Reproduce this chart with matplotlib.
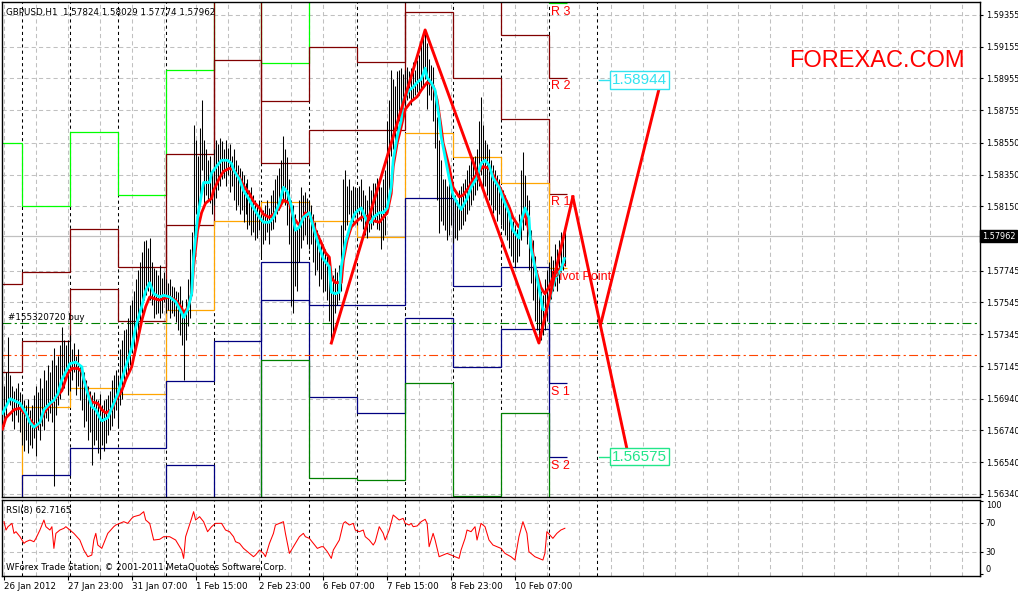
"""GBPUSD H1 chart with daily pivots, two moving averages, zigzag and RSI(8)."""

import matplotlib

matplotlib.use("Agg")

import matplotlib.pyplot as plt
import numpy as np

plt.rcParams["font.family"] = ["DejaVu Sans"]

W, H = 1018, 592

# ---- hourly bars, 26 Jan 2012 .. 13 Feb 2012 (one row per trading day) ----
bar_high = [
    1.5696, 1.5702, 1.5711, 1.5733, 1.5709, 1.5702, 1.5699, 1.5701, 1.5704, 1.5698,
    1.5696, 1.5693, 1.5690, 1.5694, 1.5687, 1.5690, 1.5696, 1.5702, 1.5698, 1.5707, 1.5701, 1.5712,
    1.5706, 1.5715, 1.5711, 1.5718, 1.5726, 1.5715, 1.5721, 1.5728, 1.5739, 1.5731, 1.5728, 1.5731,
    1.5734, 1.5725, 1.5729, 1.5721, 1.5725, 1.5715, 1.5712, 1.5711, 1.5706, 1.5702, 1.5699, 1.5696,
    1.5698, 1.5694, 1.5693, 1.5697, 1.5690, 1.5693, 1.5694, 1.5696, 1.5699, 1.5706, 1.5709, 1.5712,
    1.5708, 1.5725, 1.5731, 1.5737, 1.5738, 1.5745, 1.5753, 1.5756, 1.5762, 1.5769, 1.5775, 1.5780,
    1.5786, 1.5793, 1.5794, 1.5789, 1.5795, 1.5780, 1.5776, 1.5775, 1.5772, 1.5778, 1.5770, 1.5774,
    1.5769, 1.5767, 1.5769, 1.5765, 1.5764, 1.5762, 1.5761, 1.5765, 1.5756, 1.5750, 1.5757, 1.5769,
    1.5788, 1.5799, 1.5866, 1.5857, 1.5847, 1.5864, 1.5882, 1.5857, 1.5851, 1.5844, 1.5847, 1.5838,
    1.5851, 1.5857, 1.5854, 1.5858, 1.5856, 1.5851, 1.5857, 1.5852, 1.5854, 1.5847, 1.5851, 1.5844,
    1.5841, 1.5839, 1.5837, 1.5835, 1.5830, 1.5832, 1.5825, 1.5827, 1.5822, 1.5819, 1.5816, 1.5819,
    1.5810, 1.5813, 1.5816, 1.5819, 1.5814, 1.5822, 1.5825, 1.5832, 1.5835, 1.5839, 1.5844, 1.5859,
    1.5851, 1.5846, 1.5832, 1.5819, 1.5816, 1.5810, 1.5801, 1.5819, 1.5827, 1.5822, 1.5824, 1.5820,
    1.5819, 1.5816, 1.5810, 1.5805, 1.5800, 1.5797, 1.5794, 1.5791, 1.5788, 1.5784, 1.5780, 1.5775,
    1.5772, 1.5776, 1.5774, 1.5778, 1.5803, 1.5832, 1.5838, 1.5828, 1.5832, 1.5825, 1.5828, 1.5827,
    1.5825, 1.5828, 1.5832, 1.5825, 1.5822, 1.5819, 1.5828, 1.5825, 1.5830, 1.5830, 1.5833, 1.5828,
    1.5827, 1.5832, 1.5838, 1.5869, 1.5882, 1.5901, 1.5895, 1.5891, 1.5900, 1.5901, 1.5902, 1.5898,
    1.5901, 1.5903, 1.5900, 1.5902, 1.5906, 1.5901, 1.5907, 1.5910, 1.5917, 1.5921, 1.5926, 1.5918,
    1.5908, 1.5904, 1.5903, 1.5888, 1.5871, 1.5857, 1.5844, 1.5832, 1.5832, 1.5828, 1.5830, 1.5825,
    1.5819, 1.5822, 1.5819, 1.5825, 1.5828, 1.5830, 1.5832, 1.5838, 1.5841, 1.5844, 1.5846, 1.5847,
    1.5851, 1.5869, 1.5884, 1.5866, 1.5857, 1.5854, 1.5851, 1.5844, 1.5841, 1.5838, 1.5835, 1.5832,
    1.5827, 1.5825, 1.5822, 1.5819, 1.5815, 1.5811, 1.5806, 1.5803, 1.5801, 1.5810, 1.5838, 1.5849,
    1.5835, 1.5822, 1.5819, 1.5800, 1.5794, 1.5784, 1.5775, 1.5765, 1.5762, 1.5759, 1.5769, 1.5775,
    1.5780, 1.5784, 1.5781, 1.5791, 1.5788, 1.5794, 1.5799, 1.5794, 1.58029,
]
bar_low = [
    1.5668, 1.5677, 1.5682, 1.5694, 1.5690, 1.5680, 1.5675, 1.5684, 1.5679, 1.5673,
    1.5665, 1.5661, 1.5668, 1.5660, 1.5665, 1.5663, 1.5669, 1.5658, 1.5674, 1.5668, 1.5677, 1.5674,
    1.5682, 1.5680, 1.5685, 1.5679, 1.5639, 1.5684, 1.5690, 1.5694, 1.5702, 1.5701, 1.5707, 1.5696,
    1.5699, 1.5706, 1.5711, 1.5696, 1.5702, 1.5693, 1.5687, 1.5676, 1.5680, 1.5668, 1.5673, 1.5652,
    1.5665, 1.5668, 1.5660, 1.5656, 1.5665, 1.5661, 1.5666, 1.5671, 1.5674, 1.5677, 1.5682, 1.5687,
    1.5676, 1.5690, 1.5694, 1.5702, 1.5709, 1.5711, 1.5715, 1.5723, 1.5725, 1.5730, 1.5737, 1.5740,
    1.5748, 1.5756, 1.5759, 1.5762, 1.5756, 1.5753, 1.5745, 1.5747, 1.5748, 1.5745, 1.5748, 1.5755,
    1.5748, 1.5750, 1.5745, 1.5748, 1.5746, 1.5742, 1.5737, 1.5734, 1.5728, 1.5706, 1.5731, 1.5740,
    1.5745, 1.5759, 1.5777, 1.5810, 1.5803, 1.5822, 1.5838, 1.5816, 1.5822, 1.5819, 1.5817, 1.5810,
    1.5816, 1.5820, 1.5825, 1.5828, 1.5832, 1.5833, 1.5828, 1.5835, 1.5824, 1.5828, 1.5819, 1.5813,
    1.5816, 1.5810, 1.5813, 1.5805, 1.5810, 1.5801, 1.5803, 1.5797, 1.5799, 1.5794, 1.5795, 1.5800,
    1.5783, 1.5791, 1.5794, 1.5799, 1.5791, 1.5800, 1.5801, 1.5805, 1.5810, 1.5813, 1.5816, 1.5819,
    1.5816, 1.5803, 1.5791, 1.5752, 1.5748, 1.5765, 1.5762, 1.5780, 1.5789, 1.5794, 1.5797, 1.5791,
    1.5788, 1.5791, 1.5780, 1.5772, 1.5775, 1.5765, 1.5769, 1.5761, 1.5762, 1.5756, 1.5743, 1.5729,
    1.5734, 1.5748, 1.5753, 1.5756, 1.5762, 1.5780, 1.5800, 1.5803, 1.5810, 1.5801, 1.5805, 1.5808,
    1.5803, 1.5810, 1.5806, 1.5801, 1.5797, 1.5795, 1.5799, 1.5801, 1.5803, 1.5805, 1.5801, 1.5800,
    1.5788, 1.5794, 1.5797, 1.5810, 1.5825, 1.5847, 1.5851, 1.5857, 1.5863, 1.5869, 1.5873, 1.5876,
    1.5879, 1.5882, 1.5883, 1.5879, 1.5882, 1.5885, 1.5887, 1.5885, 1.5888, 1.5890, 1.5895, 1.5876,
    1.5885, 1.5882, 1.5869, 1.5852, 1.5819, 1.5798, 1.5806, 1.5803, 1.5800, 1.5794, 1.5797, 1.5803,
    1.5792, 1.5795, 1.5794, 1.5800, 1.5801, 1.5803, 1.5806, 1.5810, 1.5813, 1.5816, 1.5819, 1.5822,
    1.5825, 1.5828, 1.5835, 1.5825, 1.5828, 1.5822, 1.5819, 1.5816, 1.5811, 1.5813, 1.5806, 1.5810,
    1.5803, 1.5800, 1.5797, 1.5794, 1.5789, 1.5784, 1.5780, 1.5777, 1.5780, 1.5784, 1.5794, 1.5800,
    1.5803, 1.5791, 1.5775, 1.5767, 1.5756, 1.5743, 1.5737, 1.5729, 1.5731, 1.5734, 1.5737, 1.5743,
    1.5753, 1.5757, 1.5762, 1.5765, 1.5762, 1.5767, 1.5774, 1.5775, 1.57774,
]
last_close = 1.57962
header = "GBPUSD,H1  1.57824 1.58029 1.57774 1.57962"

# ---- moving averages (cyan = fast, red = slow), sampled along the bars ----
fast_ma_bar = [
    0, 4, 9, 12, 14, 16, 19, 21, 24, 26, 28, 30, 34, 37, 40, 41, 43, 45, 47, 49,
    50, 53, 55, 58, 60, 63, 65, 67, 70, 72, 74, 76, 79, 81, 84, 87, 90, 91, 93, 95,
    96, 98, 100, 101, 104, 105, 108, 110, 113, 115, 116, 119, 121, 124, 126, 129, 131, 134, 136, 139,
    141, 143, 145, 147, 149, 151, 154, 156, 159, 161, 164, 165, 167, 169, 170, 172, 175, 177, 180, 181,
    183, 185, 186, 189, 191, 193, 195, 196, 198, 200, 201, 204, 206, 208, 210, 211, 212, 213, 215, 217,
    219, 220, 222, 224, 226, 229, 230, 233, 235, 238, 240, 242, 244, 246, 249, 251, 254, 256, 259, 260,
    262, 264, 265, 267, 269, 271, 273, 275, 277, 280, 282,
]
fast_ma = [
    1.5684, 1.5694, 1.5691, 1.5685, 1.5679, 1.5676, 1.5679, 1.5687, 1.5691, 1.5693,
    1.5697, 1.5706, 1.5716, 1.5717, 1.5714, 1.5706, 1.5697, 1.5689, 1.5687, 1.5682,
    1.5680, 1.5682, 1.5688, 1.5697, 1.5706, 1.5718, 1.5726, 1.5739, 1.5752, 1.5762,
    1.5767, 1.5760, 1.5758, 1.5759, 1.5758, 1.5755, 1.5748, 1.5745, 1.5750, 1.5760,
    1.5783, 1.5808, 1.5823, 1.5830, 1.5830, 1.5836, 1.5841, 1.5844, 1.5844, 1.5842,
    1.5838, 1.5832, 1.5825, 1.5819, 1.5814, 1.5808, 1.5805, 1.5805, 1.5808, 1.5817,
    1.5827, 1.5824, 1.5815, 1.5800, 1.5802, 1.5808, 1.5811, 1.5802, 1.5789, 1.5782,
    1.5777, 1.5761, 1.5760, 1.5761, 1.5777, 1.5792, 1.5805, 1.5811, 1.5814, 1.5811,
    1.5805, 1.5805, 1.5808, 1.5811, 1.5811, 1.5814, 1.5827, 1.5844, 1.5859, 1.5869,
    1.5882, 1.5888, 1.5890, 1.5893, 1.5895, 1.5898, 1.5902, 1.5896, 1.5893, 1.5888,
    1.5871, 1.5859, 1.5846, 1.5833, 1.5822, 1.5815, 1.5813, 1.5820, 1.5827, 1.5833,
    1.5842, 1.5844, 1.5841, 1.5833, 1.5827, 1.5820, 1.5811, 1.5800, 1.5795, 1.5805,
    1.5814, 1.5808, 1.5789, 1.5777, 1.5764, 1.5750, 1.5750, 1.5760, 1.5769, 1.5775,
    1.5783,
]
slow_ma_bar = [
    0, 2, 6, 9, 12, 15, 17, 19, 21, 24, 26, 30, 33, 35, 38, 40, 42, 44, 45, 48,
    50, 52, 55, 57, 60, 62, 65, 66, 68, 70, 72, 74, 76, 79, 81, 84, 87, 90, 91, 93,
    95, 96, 98, 100, 102, 105, 106, 109, 111, 114, 116, 119, 121, 124, 126, 129, 131, 134, 136, 139,
    141, 144, 146, 149, 152, 155, 157, 160, 162, 164, 165, 167, 170, 171, 173, 175, 178, 180, 182, 184,
    186, 189, 191, 193, 195, 196, 198, 200, 202, 205, 208, 210, 213, 215, 216, 218, 220, 221, 224, 226,
    229, 231, 234, 236, 239, 241, 244, 246, 249, 251, 254, 256, 259, 260, 262, 265, 267, 270, 272, 274,
    276, 279, 282,
]
slow_ma = [
    1.5674, 1.5682, 1.5687, 1.5688, 1.5684, 1.5679, 1.5676, 1.5679, 1.5685, 1.5690,
    1.5693, 1.5699, 1.5710, 1.5713, 1.5713, 1.5711, 1.5702, 1.5695, 1.5692, 1.5691,
    1.5687, 1.5685, 1.5687, 1.5693, 1.5699, 1.5706, 1.5714, 1.5720, 1.5731, 1.5743,
    1.5752, 1.5758, 1.5757, 1.5756, 1.5757, 1.5758, 1.5756, 1.5751, 1.5748, 1.5751,
    1.5760, 1.5777, 1.5800, 1.5811, 1.5817, 1.5820, 1.5825, 1.5833, 1.5837, 1.5839,
    1.5838, 1.5833, 1.5828, 1.5823, 1.5818, 1.5814, 1.5810, 1.5808, 1.5810, 1.5814,
    1.5819, 1.5817, 1.5808, 1.5803, 1.5811, 1.5808, 1.5800, 1.5792, 1.5786, 1.5783,
    1.5770, 1.5767, 1.5767, 1.5781, 1.5794, 1.5802, 1.5806, 1.5808, 1.5809, 1.5808,
    1.5806, 1.5805, 1.5808, 1.5811, 1.5823, 1.5840, 1.5855, 1.5865, 1.5876, 1.5881,
    1.5884, 1.5888, 1.5893, 1.5892, 1.5891, 1.5882, 1.5865, 1.5855, 1.5840, 1.5827,
    1.5821, 1.5822, 1.5827, 1.5832, 1.5837, 1.5840, 1.5839, 1.5835, 1.5828, 1.5823,
    1.5815, 1.5808, 1.5802, 1.5805, 1.5811, 1.5794, 1.5777, 1.5764, 1.5760, 1.5764,
    1.5770, 1.5775, 1.5779,
]

# ---- daily pivot levels (day boundaries in bar numbers) ----
day_edges = [0, 10, 34, 58, 82, 106, 130, 154, 178, 202, 226, 250, 274, 283]
pivot_r3 = [1.5855, 1.5815, 1.5862, 1.5822, 1.5901, 1.6083, 1.5905, 1.5973, 1.5973, 1.6053, 1.6027, 1.5963, 1.5943]
pivot_r2 = [1.5766, 1.5774, 1.5801, 1.5777, 1.5848, 1.5982, 1.5881, 1.5915, 1.5906, 1.5978, 1.5977, 1.5923, 1.5896]
pivot_r1 = [1.5711, 1.5730, 1.5763, 1.5743, 1.5803, 1.5907, 1.5842, 1.5863, 1.5863, 1.5937, 1.5896, 1.5870, 1.5823]
pivot_pp = [1.5622, 1.5689, 1.5701, 1.5697, 1.5750, 1.5806, 1.5818, 1.5806, 1.5796, 1.5861, 1.5846, 1.5830, 1.5776]
pivot_s1 = [1.5568, 1.5646, 1.5663, 1.5663, 1.5705, 1.5730, 1.5780, 1.5753, 1.5753, 1.5820, 1.5765, 1.5777, 1.5704]
pivot_s2 = [1.5479, 1.5605, 1.5601, 1.5618, 1.5652, 1.5629, 1.5756, 1.5695, 1.5685, 1.5745, 1.5714, 1.5738, 1.5657]
pivot_s3 = [1.5424, 1.5562, 1.5563, 1.5583, 1.5607, 1.5554, 1.5718, 1.5644, 1.5643, 1.5704, 1.5633, 1.5685, 1.5584]
pivot_names = ["R 3", "R 2", "R 1", "Pivot Point", "S 1", "S 2"]

# ---- zigzag and forecast legs ----
zigzag_bar = [165, 212, 269, 286]
zigzag_price = [1.5729, 1.5926, 1.5729, 1.5821]
leg_down_bar = [286, 313]
leg_down_price = [1.5821, 1.5663]
leg_up_bar = [300, 329]
leg_up_price = [1.5741, 1.5888]
targets = [1.58944, 1.56575]

# ---- open order ----
order_open = 1.57415
order_stop = 1.57214
order_label = "#155320720 buy"

# ---- RSI(8) ----
rsi_bar = [
    1, 2, 3, 5, 6, 7, 9, 11, 12, 14, 16, 17, 19, 21, 22, 24, 25, 26, 27, 29,
    31, 32, 34, 36, 39, 41, 43, 45, 46, 47, 48, 50, 51, 53, 56, 57, 59, 61, 63, 65,
    66, 69, 71, 72, 74, 76, 79, 81, 84, 87, 90, 91, 92, 95, 96, 97, 99, 101, 103, 105,
    107, 110, 112, 114, 116, 117, 119, 121, 122, 126, 127, 129, 131, 132, 134, 136, 137, 139, 141, 142,
    144, 146, 147, 149, 151, 152, 154, 156, 158, 160, 161, 163, 165, 166, 169, 171, 172, 174, 176, 177,
    179, 181, 182, 184, 186, 187, 189, 191, 192, 194, 196, 197, 199, 201, 202, 204, 205, 206, 208, 210,
    212, 213, 214, 216, 217, 219, 221, 223, 225, 227, 229, 230, 232, 233, 235, 237, 238, 240, 242, 244,
    246, 248, 250, 252, 255, 257, 259, 261, 263, 264, 267, 269, 271, 272, 273, 276, 278, 280, 282,
]
rsi_val = [
    71.8, 60.3, 64.9, 69.5, 55.7, 58.0, 51.1, 41.9, 44.2, 46.5, 44.2, 48.8, 60.3, 74.1, 64.9, 60.3, 64.9, 35.0, 55.7, 60.3,
    62.6, 64.9, 60.3, 55.7, 46.5, 32.7, 23.5, 25.8, 46.5, 55.7, 39.6, 35.0, 41.9, 55.7, 64.9, 67.2, 69.5, 71.8, 69.5, 76.4,
    78.7, 81.0, 85.6, 74.1, 69.5, 46.5, 47.5, 51.1, 51.1, 46.5, 32.7, 21.2, 51.1, 76.4, 85.6, 74.1, 78.7, 71.8, 58.0, 64.9,
    69.5, 69.5, 60.3, 58.0, 51.1, 44.2, 41.9, 35.0, 32.7, 23.5, 25.8, 32.7, 28.1, 23.5, 41.9, 55.7, 67.2, 69.5, 71.8, 55.7,
    28.1, 37.3, 41.9, 51.1, 55.7, 51.1, 48.8, 41.9, 35.0, 37.3, 37.3, 30.4, 21.2, 32.7, 46.5, 69.5, 71.8, 67.2, 69.5, 60.3,
    58.0, 60.3, 51.1, 46.5, 39.6, 44.2, 64.9, 55.7, 46.5, 60.3, 81.0, 78.7, 74.1, 76.4, 69.5, 67.2, 69.5, 64.9, 65.9, 71.8,
    75.1, 69.5, 37.3, 55.7, 46.5, 23.5, 25.8, 28.1, 25.8, 23.5, 21.2, 32.7, 48.8, 60.3, 58.0, 64.9, 46.5, 69.5, 64.9, 46.5,
    39.6, 37.3, 35.0, 28.1, 23.5, 18.9, 51.1, 71.8, 55.7, 30.4, 23.5, 21.2, 18.9, 28.1, 58.0, 48.8, 55.7, 60.3, 62.7,
]
rsi_last = "RSI(8) 62.7165"

# ---- axes labels ----
price_ticks = [1.59355, 1.59155, 1.58955, 1.58755, 1.58550, 1.58350, 1.58150,
               1.57745, 1.57545, 1.57345, 1.57145, 1.56940, 1.56740, 1.56540, 1.56340]
date_bars = [1, 33, 65, 97, 129, 161, 193, 225, 257]
date_labels = ["26 Jan 2012", "27 Jan 23:00", "31 Jan 07:00", "1 Feb 15:00", "2 Feb 23:00",
               "6 Feb 07:00", "7 Feb 15:00", "8 Feb 23:00", "10 Feb 07:00"]
copyright_text = "WForex Trade Station, \u00a9 2001-2011 MetaQuotes Software Corp."

GRID = dict(color="#c0c0c0", lw=0.75, ls=(0, (4, 3)), zorder=0)
SEP = dict(color="black", lw=0.75, ls=(0, (3, 3)), zorder=1)
SMALL = 6.3
AXIS_FS = 5.9

fig = plt.figure(figsize=(W / 100, H / 100), dpi=100)
ax = fig.add_axes([2 / W, 1 - 497 / H, 978 / W, 495 / H])
ax_rsi = fig.add_axes([2 / W, 1 - 576 / H, 978 / W, 76 / H])

for a in (ax, ax_rsi):
    a.set_xlim(0, 490)
    for s in a.spines.values():
        s.set_color("black")
        s.set_linewidth(1.0)
    for xb in np.arange(1, 490, 16):
        a.axvline(xb, **GRID)
    for xb in range(10, 299, 24):
        a.axvline(xb, **SEP)
    a.yaxis.tick_right()
    a.tick_params(axis="y", direction="out", length=2.5, pad=1.5, labelsize=AXIS_FS, width=0.8)

# ---- main price panel ----
ax.set_ylim(1.56321, 1.59436)
ax.set_xticks([])
ax.set_yticks(price_ticks)
ax.set_yticklabels([f"{p:.5f}" for p in price_ticks])
for p in price_ticks:
    ax.axhline(p, **GRID)
ax.axhline(last_close, color="#c0c0c0", lw=0.9, zorder=0.5)

levels = [
    (pivot_r3, "#00ff00"), (pivot_r2, "#800000"), (pivot_r1, "#800000"), (pivot_pp, "#ffa500"),
    (pivot_s1, "#000080"), (pivot_s2, "#000080"), (pivot_s3, "#008000"),
]
for vals, color in levels:
    ax.stairs(vals, day_edges, baseline=None, color=color, lw=0.9, zorder=2)

ax.axhline(order_open, color="#008000", lw=0.8, ls=(0, (8, 3, 2, 3)), zorder=2)
ax.axhline(order_stop, color="#ff4500", lw=0.8, ls=(0, (8, 3, 2, 3)), zorder=2)
ax.annotate(order_label, (3, order_open), xytext=(0, 1), textcoords="offset points",
            ha="left", va="bottom", fontsize=SMALL)

ax.vlines(np.arange(len(bar_high)), bar_low, bar_high, color="black", lw=0.75, zorder=3)

ax.plot(slow_ma_bar, slow_ma, color="#ff0000", lw=2.0, zorder=4, solid_capstyle="butt")
ax.plot(fast_ma_bar, fast_ma, color="#00ffff", lw=2.0, zorder=4, solid_capstyle="butt")
ax.plot(zigzag_bar, zigzag_price, color="#ff0000", lw=2.1, zorder=5)
ax.plot(leg_down_bar, leg_down_price, color="#ff0000", lw=2.1, zorder=5)
ax.plot(leg_up_bar, leg_up_price, color="#ff0000", lw=2.1, zorder=5)

for name, vals in zip(pivot_names, levels):
    ax.annotate(name, (274.5, vals[0][-1]), xytext=(1, -2), textcoords="offset points",
                ha="left", va="top", color="#ff0000", fontsize=9, family="Liberation Sans", zorder=6)

for price, color in zip(targets, ["#33e3f0", "#22e68a"]):
    ax.plot([299, 304.5], [price, price], color=color, lw=1.0, zorder=5)
    ax.text(305.5, price, f"{price:.5f}", color=color, fontsize=11, family="Liberation Sans",
            ha="left", va="center", zorder=6,
            bbox=dict(boxstyle="square,pad=0.12", fc="white", ec=color, lw=1.0))

ax.text(1.002, last_close, f"{last_close:.5f}", transform=ax.get_yaxis_transform(),
        ha="left", va="center", color="white", fontsize=AXIS_FS, clip_on=False,
        bbox=dict(boxstyle="square,pad=0.2", fc="black", ec="black"))

fig.text(6 / W, 1 - 12 / H, header, ha="left", va="center", fontsize=SMALL)
fig.text(877 / W, 1 - 61 / H, "FOREXAC.COM", ha="center", va="center", color="#ff0000",
         fontsize=17, family="Liberation Sans")

# ---- RSI panel ----
ax_rsi.set_ylim(-3.1, 101.7)
for lvl in (70, 30):
    ax_rsi.axhline(lvl, **GRID)
ax_rsi.plot(rsi_bar, rsi_val, color="#ff0000", lw=0.75, zorder=3)
ax_rsi.set_yticks([100, 70, 30, 0])
ax_rsi.set_yticklabels(["100", "70", "30", "0"])
rl = ax_rsi.get_yticklabels()
rl[0].set_va("top")
rl[3].set_va("bottom")
ax_rsi.set_xticks(date_bars)
ax_rsi.set_xticklabels(date_labels)
for lbl in ax_rsi.get_xticklabels():
    lbl.set_ha("left")
ax_rsi.tick_params(axis="x", direction="out", length=3, pad=1, labelsize=SMALL, width=0.8)

fig.text(6 / W, 1 - 510 / H, rsi_last, ha="left", va="center", fontsize=SMALL)
fig.text(6 / W, 1 - 567 / H, copyright_text, ha="left", va="center", fontsize=SMALL)

fig.savefig("out.png", dpi=100)
